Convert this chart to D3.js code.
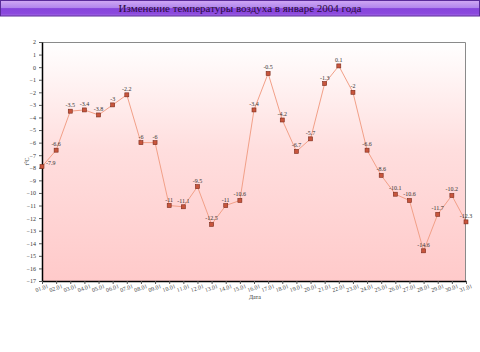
<!DOCTYPE html>
<html>
<head>
<meta charset="utf-8">
<script src="https://cdn.jsdelivr.net/npm/d3@7"></script>
<style>
body { margin: 0; background: #fff; }
svg text { font-family: "Liberation Serif", "DejaVu Serif", serif; }
</style>
</head>
<body>
<div id="chart"></div>
<script>
// days of January 2004
var days = ["01.01","02.01","03.01","04.01","05.01","06.01","07.01","08.01","09.01","10.01",
            "11.01","12.01","13.01","14.01","15.01","16.01","17.01","18.01","19.01","20.01",
            "21.01","22.01","23.01","24.01","25.01","26.01","27.01","28.01","29.01","30.01","31.01"]

// temperature, °C
var temps = [-7.9,-6.6,-3.5,-3.4,-3.8,-3,-2.2,-6,-6,-11,
             -11.1,-9.5,-12.5,-11,-10.6,-3.4,-0.5,-4.2,-6.7,-5.7,
             -1.3,0.1,-2,-6.6,-8.6,-10.1,-10.6,-14.6,-11.7,-10.2,-12.3]

var yTicks = d3.range(2, -18, -1)

var W = 480, H = 352
var margin = {top: 42, right: 14, bottom: 71, left: 42},
    width = W - margin.left - margin.right,
    height = H - margin.top - margin.bottom;

var svg = d3.select("#chart").append("svg")
    .attr("width", W)
    .attr("height", H)

var defs = svg.append("defs")

var bg = defs.append("linearGradient").attr("id", "plotBg")
    .attr("x1", 0).attr("y1", 0).attr("x2", 0).attr("y2", 1)
bg.append("stop").attr("offset", "0%").attr("stop-color", "#ffffff")
bg.append("stop").attr("offset", "45%").attr("stop-color", "#ffdede")
bg.append("stop").attr("offset", "100%").attr("stop-color", "#ffcaca")

var tb = defs.append("linearGradient").attr("id", "titleBg")
    .attr("x1", 0).attr("y1", 0).attr("x2", 0).attr("y2", 1)
tb.append("stop").attr("offset", "0%").attr("stop-color", "#d0a8f4")
tb.append("stop").attr("offset", "48%").attr("stop-color", "#b084ec")
tb.append("stop").attr("offset", "52%").attr("stop-color", "#8644dc")
tb.append("stop").attr("offset", "85%").attr("stop-color", "#8c4ade")
tb.append("stop").attr("offset", "100%").attr("stop-color", "#a670e6")

// title bar
svg.append("rect")
    .attr("x", 0.5).attr("y", 0.5)
    .attr("width", W - 1).attr("height", 15.5)
    .attr("fill", "url(#titleBg)")
    .attr("stroke", "#5a2a9a")
svg.append("text")
    .attr("x", W / 2).attr("y", 12)
    .attr("text-anchor", "middle")
    .attr("font-size", 11)
    .attr("fill", "#2a0a3a")
    .text("Изменение температуры воздуха в январе 2004 года")

var g = svg.append("g")
    .attr("transform", "translate(" + margin.left + "," + margin.top + ")")

var x = d3.scalePoint()
    .domain(days)
    .range([0, width])

var y = d3.scaleLinear()
    .domain([-17, 2])
    .range([height, 0])

g.append("rect")
    .attr("width", width).attr("height", height)
    .attr("fill", "url(#plotBg)")

// frame top / right
g.append("path")
    .attr("d", "M0,0.5H" + (width - 0.5) + "V" + height)
    .attr("fill", "none")
    .attr("stroke", "#8a8a8a")

// Y axis
var yAxis = g.append("g")
    .call(d3.axisLeft(y).tickValues(yTicks).tickSize(3).tickSizeOuter(0))
yAxis.select(".domain").attr("stroke", "#000").attr("stroke-width", 1.5)
yAxis.selectAll(".tick line").attr("stroke", "#555")
yAxis.selectAll("text").attr("font-size", 6).attr("fill", "#333")
    .attr("font-family", "Liberation Serif")

// X axis
var xAxis = g.append("g")
    .attr("transform", "translate(0," + height + ")")
    .call(d3.axisBottom(x).tickSize(3).tickSizeOuter(0))
xAxis.select(".domain").attr("stroke", "#000").attr("stroke-width", 1.5)
xAxis.selectAll(".tick line").attr("stroke", "#555")
xAxis.selectAll("text")
    .attr("font-size", 6).attr("fill", "#444")
    .attr("font-family", "Liberation Serif")
    .attr("text-anchor", "middle")
    .attr("dy", 0)
    .attr("y", 9)
    .attr("transform", "rotate(-20, 0, 9)")

// axis titles
svg.append("text")
    .attr("transform", "translate(29," + (margin.top + height / 2) + ") rotate(-90)")
    .attr("text-anchor", "middle")
    .attr("font-size", 6).attr("fill", "#333")
    .text("t°C")
svg.append("text")
    .attr("x", 255).attr("y", 299)
    .attr("text-anchor", "middle")
    .attr("font-size", 6).attr("fill", "#333")
    .text("Дата")

// line
var line = d3.line()
    .x(function(d, i) { return x(days[i]) })
    .y(function(d) { return y(d) })

g.append("path")
    .datum(temps)
    .attr("d", line)
    .attr("fill", "none")
    .attr("stroke", "#f2a088")
    .attr("stroke-width", 1)

// markers
g.selectAll(".pt")
    .data(temps)
    .enter().append("rect")
    .attr("class", "pt")
    .attr("x", function(d, i) { return x(days[i]) - 2 })
    .attr("y", function(d) { return y(d) - 2 })
    .attr("width", 4).attr("height", 4)
    .attr("fill", "#c8553d")
    .attr("stroke", "#7a2a1a")
    .attr("stroke-width", 0.6)

// value labels
g.selectAll(".lbl")
    .data(temps)
    .enter().append("text")
    .attr("class", "lbl")
    .attr("x", function(d, i) { return x(days[i]) + (i === 0 ? 4 : 0) })
    .attr("y", function(d, i) { return y(d) - (i === 0 ? 2 : 4) })
    .attr("text-anchor", function(d, i) { return i === 0 ? "start" : "middle" })
    .attr("font-size", 6).attr("fill", "#333")
    .text(function(d) { return d })
</script>
</body>
</html>
